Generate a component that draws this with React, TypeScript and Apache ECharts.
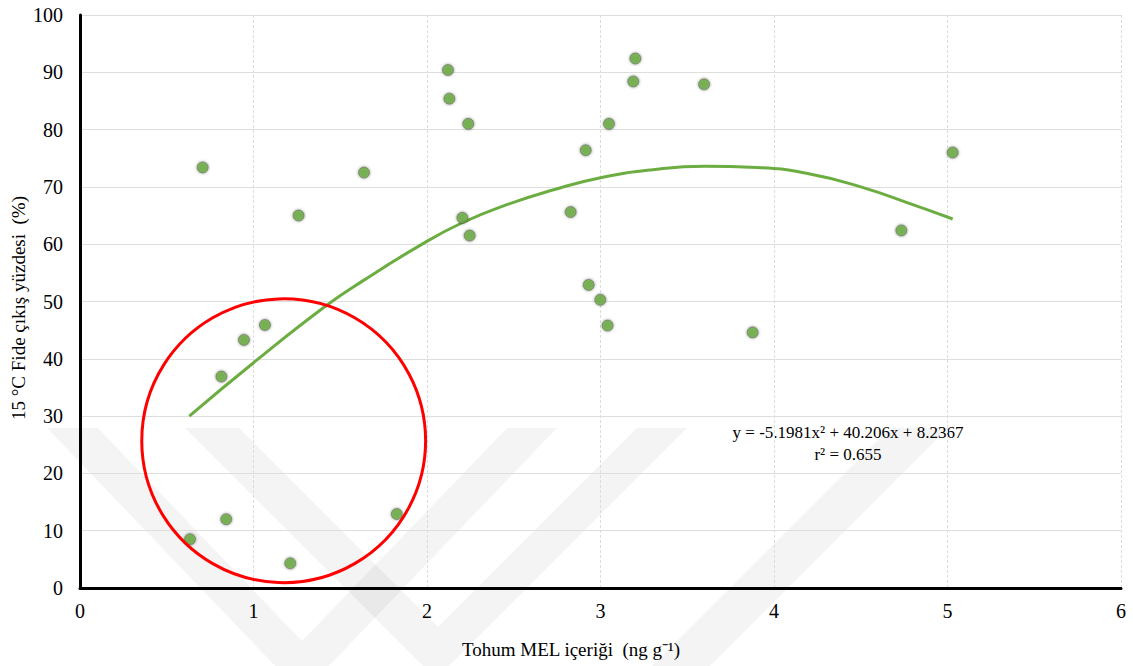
import React, { useEffect, useRef } from "react";
import * as echarts from "echarts";

// Seed MEL content (ng g-1) and 15 °C seedling emergence (%)
const melContent = [0.634, 0.707, 0.815, 0.843, 0.945, 1.066, 1.212, 1.26, 1.637, 1.826, 2.121, 2.129, 2.204, 2.238, 2.246, 2.828, 2.915, 2.932, 2.999, 3.041, 3.049, 3.189, 3.201, 3.597, 3.877, 4.734, 5.03];
const emergencePct = [8.5, 73.4, 36.9, 12.0, 43.3, 45.9, 4.3, 65.0, 72.5, 12.9, 90.4, 85.4, 64.6, 81.0, 61.5, 65.6, 76.4, 52.9, 50.3, 45.8, 81.0, 88.4, 92.4, 87.9, 44.6, 62.4, 76.0];

// Trendline
const trendX = [0.63, 1.02, 1.42, 1.63, 1.96, 2.2, 2.46, 2.73, 3.0, 3.3, 3.6, 3.9, 4.2, 4.5, 4.8, 5.03];
const trendY = [30.0, 39.8, 49.3, 53.6, 59.8, 63.7, 66.9, 69.5, 71.6, 73.0, 73.6, 73.4, 72.3, 70.0, 66.9, 64.4];

// Highlight circle: centre (x, y) and radius in x units
const circleMark = [1.174, 25.7, 0.818];

const xAxisMin = 0, xAxisMax = 6, xAxisStep = 1;
const yAxisMin = 0, yAxisMax = 100, yAxisStep = 10;

const xTitle = "Tohum MEL içeriği  (ng g⁻¹)";
const yTitle = "15 °C Fide çıkış yüzdesi  (%)";
const eqLine1 = "y = -5.1981x² + 40.206x + 8.2367";
const eqLine2 = "r² = 0.655";

const FONT = "'Liberation Serif', 'Times New Roman', serif";
const GREEN = "#6cad42";
const WM = "rgba(0,0,0,0.045)";

export default function App() {
  const ref = useRef<HTMLDivElement>(null);
  useEffect(() => {
    if (!ref.current) return;
    const chart = echarts.init(ref.current, null, { renderer: "svg" });
    const scatterData = melContent.map((x, i) => [x, emergencePct[i]]);
    const trendData = trendX.map((x, i) => [x, trendY[i]]);
    chart.setOption({
      animation: false,
      backgroundColor: "#ffffff",
      grid: { left: 80, right: 12, top: 15, bottom: 78, containLabel: false },
      xAxis: {
        type: "value",
        min: xAxisMin,
        max: xAxisMax,
        interval: xAxisStep,
        axisLine: { show: true, lineStyle: { color: "#000", width: 3 } },
        axisTick: { show: false },
        axisLabel: { color: "#000", fontFamily: FONT, fontSize: 20, margin: 13 },
        splitLine: { show: true, lineStyle: { color: "#dcdcdc", width: 1, type: [3, 2] } },
      },
      yAxis: {
        type: "value",
        min: yAxisMin,
        max: yAxisMax,
        interval: yAxisStep,
        axisLine: { show: true, lineStyle: { color: "#000", width: 3 } },
        axisTick: { show: false },
        axisLabel: { color: "#000", fontFamily: FONT, fontSize: 20, margin: 17 },
        splitLine: { show: true, lineStyle: { color: "#dedede", width: 1 } },
      },
      graphic: [
        { type: "polygon", z: -10, silent: true, shape: { points: [[47, 428], [98, 428], [302, 641], [507, 428], [557, 428], [302, 694]] }, style: { fill: WM } },
        { type: "polygon", z: -10, silent: true, shape: { points: [[185, 428], [239, 428], [438, 627], [637, 428], [687, 428], [436, 679]] }, style: { fill: WM } },
        { type: "polygon", z: -10, silent: true, shape: { points: [[890, 428], [948, 428], [710, 666], [652, 666]] }, style: { fill: WM } },
        { type: "text", x: 571, y: 649, style: { text: xTitle, fontFamily: FONT, fontSize: 19, fill: "#000", align: "center", verticalAlign: "middle" } },
        { type: "text", x: 18, y: 308, rotation: Math.PI / 2, style: { text: yTitle, fontFamily: FONT, fontSize: 19, fill: "#000", align: "center", verticalAlign: "middle" } },
        { type: "text", x: 848, y: 432, style: { text: eqLine1, fontFamily: FONT, fontSize: 17, fill: "#000", align: "center", verticalAlign: "middle" } },
        { type: "text", x: 848, y: 454, style: { text: eqLine2, fontFamily: FONT, fontSize: 17, fill: "#000", align: "center", verticalAlign: "middle" } },
      ],
      series: [
        {
          type: "line",
          data: trendData,
          smooth: 0.5,
          showSymbol: false,
          symbol: "none",
          lineStyle: { color: GREEN, width: 3 },
          z: 3,
        },
        {
          type: "scatter",
          data: scatterData,
          symbol: "circle",
          symbolSize: 11,
          itemStyle: { color: GREEN, borderColor: "rgba(80,80,80,0.55)", borderWidth: 1, shadowBlur: 3, shadowColor: "rgba(0,0,0,0.55)" },
          z: 4,
        },
        {
          type: "custom",
          clip: false,
          z: 5,
          data: [circleMark],
          renderItem: (params: any, api: any) => {
            const c = api.coord([api.value(0), api.value(1)]);
            const r = api.size([api.value(2), 0])[0];
            return {
              type: "circle",
              shape: { cx: c[0], cy: c[1], r },
              style: { fill: "none", stroke: "#ff0000", lineWidth: 3 },
            };
          },
        },
      ],
    });
    return () => chart.dispose();
  }, []);
  return <div ref={ref} style={{ position: "fixed", left: 0, top: 0, width: 1133, height: 666 }} />;
}
